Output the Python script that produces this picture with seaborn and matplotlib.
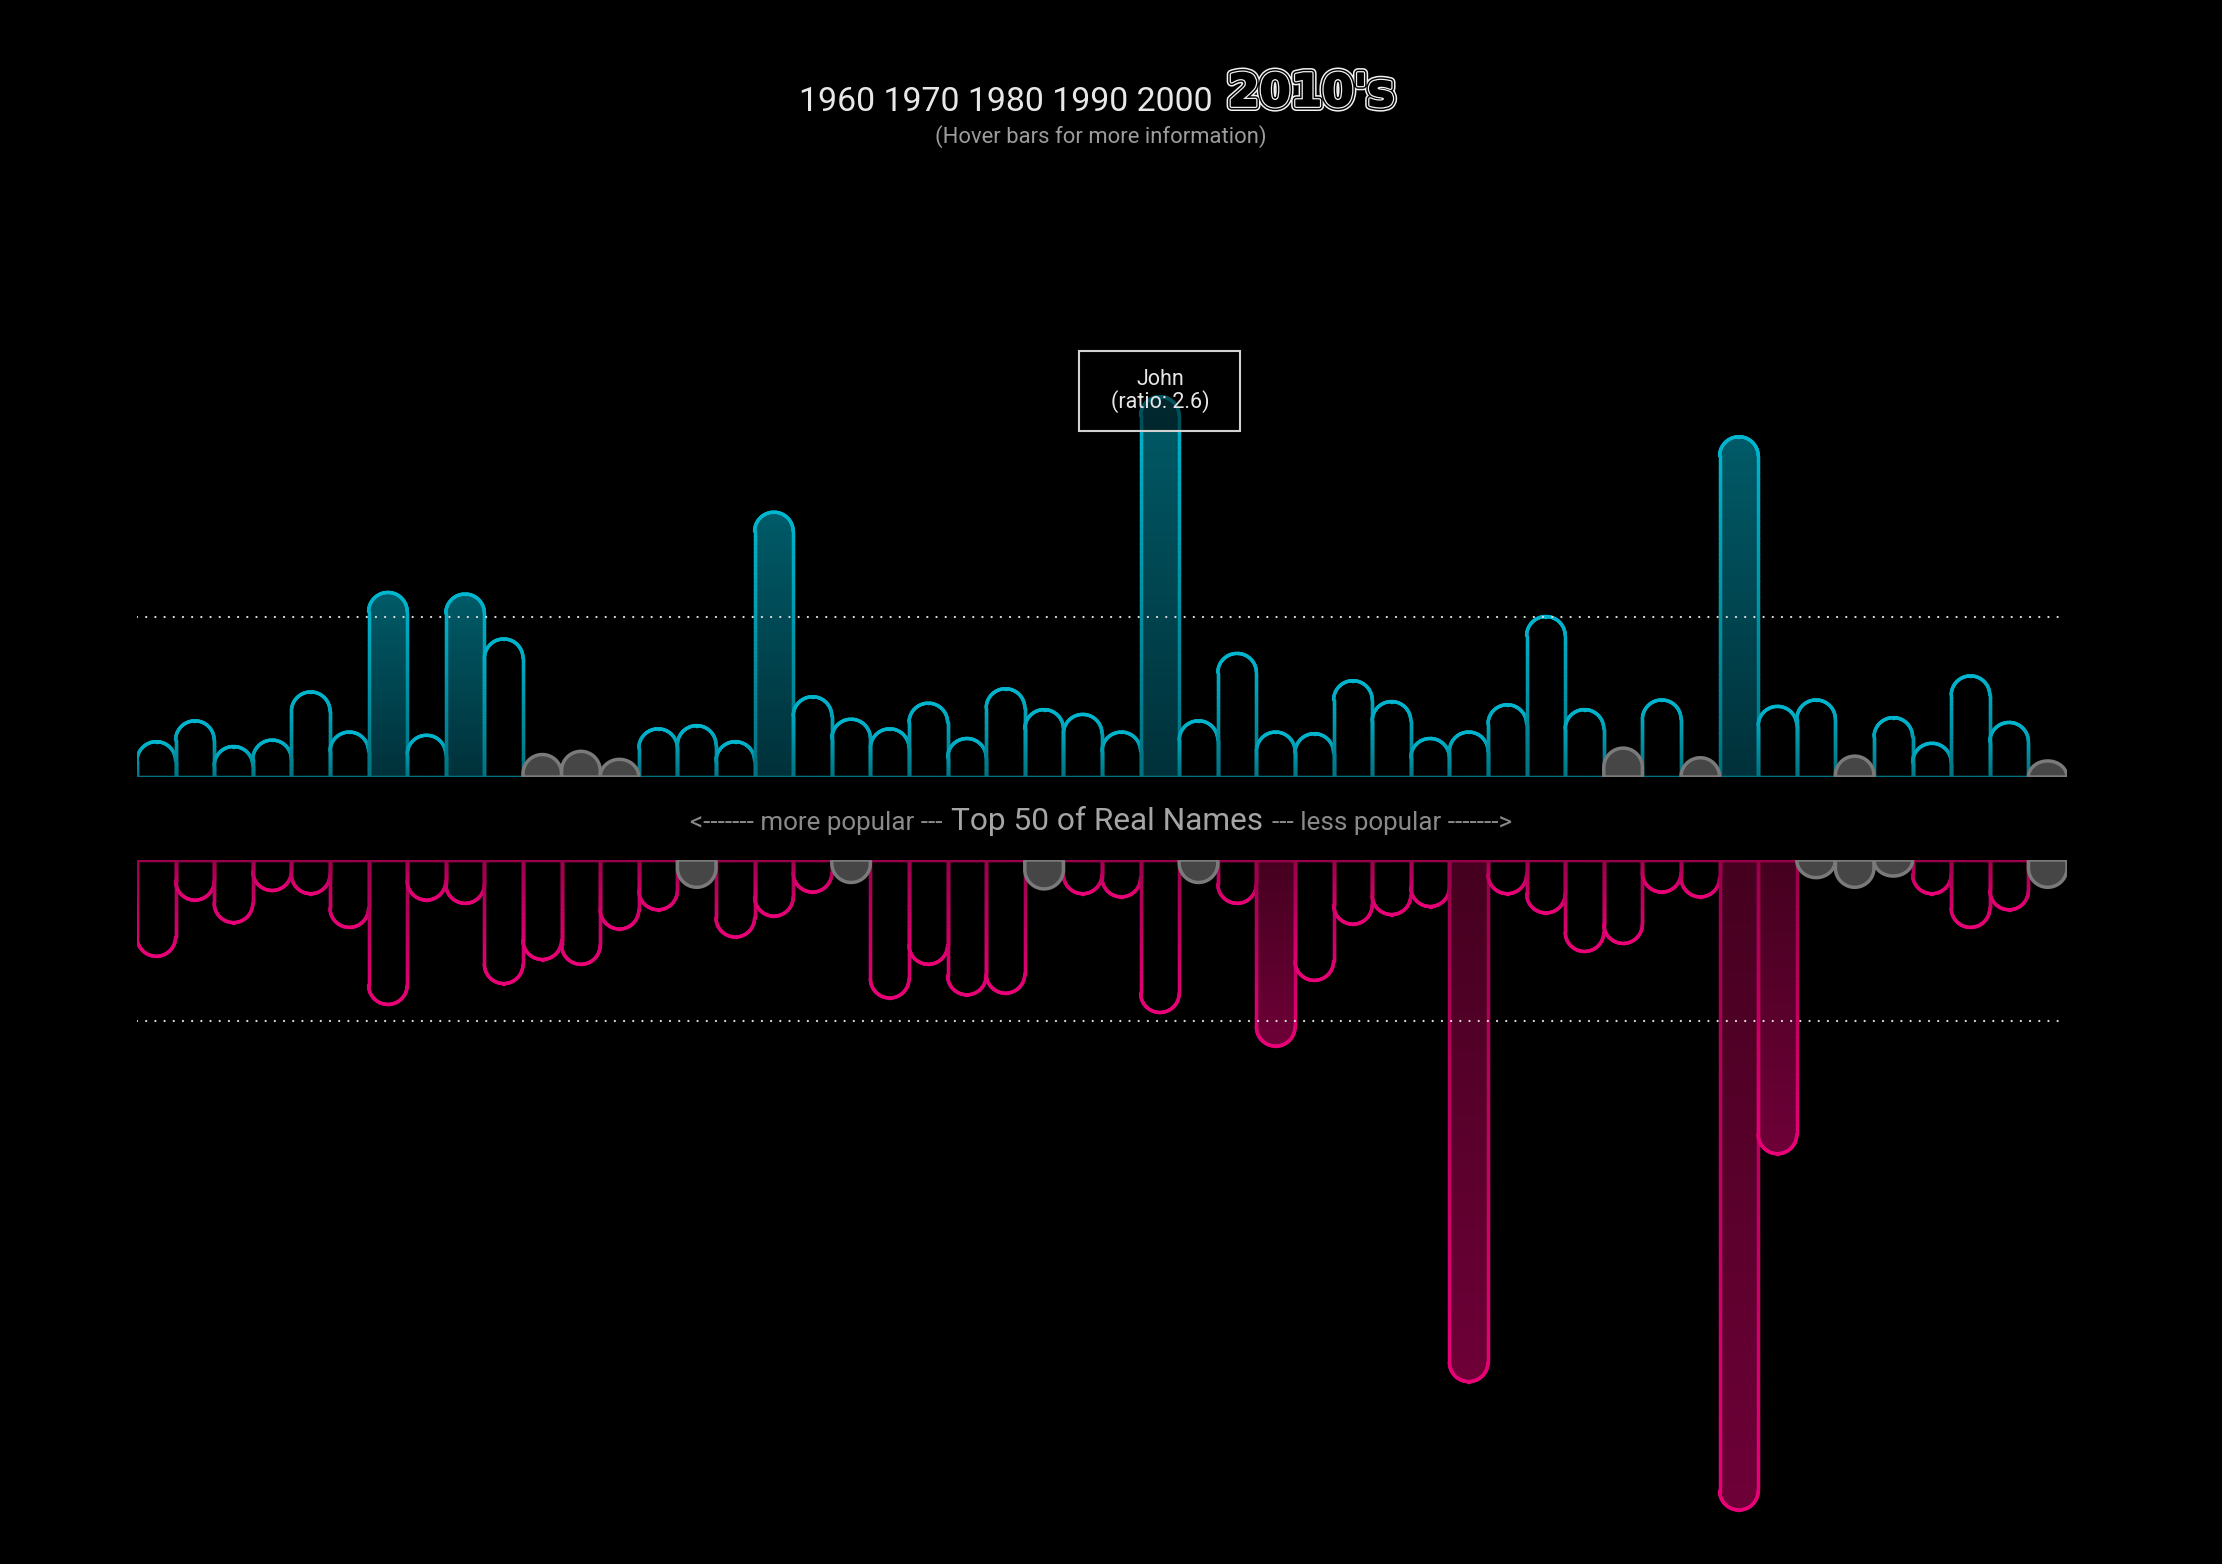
import numpy as np
import pandas as pd
import matplotlib
matplotlib.use("Agg")
import matplotlib.pyplot as plt
import seaborn as sns
from matplotlib.path import Path
from matplotlib.patches import PathPatch, Rectangle
from matplotlib.collections import LineCollection
from matplotlib.colors import LinearSegmentedColormap
from matplotlib.transforms import IdentityTransform
import matplotlib.patheffects as pe

# ---------------- data ----------------
ranks = list(range(1, 51))
top_ratio = [0.22, 0.35, 0.19, 0.23, 0.53, 0.28, 1.15, 0.26, 1.14, 0.86,
             0.14, 0.16, 0.11, 0.30, 0.32, 0.22, 1.65, 0.50, 0.36, 0.30,
             0.46, 0.24, 0.55, 0.42, 0.39, 0.28, 2.37, 0.35, 0.77, 0.28,
             0.27, 0.60, 0.47, 0.24, 0.28, 0.45, 1.00, 0.42, 0.18, 0.48,
             0.12, 2.12, 0.44, 0.48, 0.13, 0.37, 0.21, 0.63, 0.34, 0.10]
bottom_ratio = [0.60, 0.25, 0.39, 0.19, 0.21, 0.42, 0.90, 0.25, 0.27, 0.77,
                0.62, 0.65, 0.43, 0.31, 0.17, 0.48, 0.35, 0.20, 0.14, 0.86,
                0.65, 0.84, 0.83, 0.18, 0.21, 0.23, 0.95, 0.14, 0.27, 1.16,
                0.75, 0.40, 0.34, 0.29, 3.25, 0.21, 0.33, 0.57, 0.52, 0.20,
                0.23, 4.05, 1.83, 0.11, 0.17, 0.10, 0.21, 0.42, 0.31, 0.17]
top_muted = [11, 12, 13, 39, 41, 45, 50]
bottom_muted = [15, 19, 24, 28, 44, 45, 46, 50]
reference_level = 1.0
tooltip_rank = 27
tooltip_name = "John"
tooltip_ratio = 2.6
decades = ["1960", "1970", "1980", "1990", "2000"]
current_decade = "2010's"
subtitle = "(Hover bars for more information)"
axis_left = "<------- more popular ---"
axis_title = "Top 50 of Real Names"
axis_right = "--- less popular ------->"

# ---------------- layout / style ----------------
W, H, DPI = 2222, 1564, 100
sns.set_theme(style="white", rc={"axes.facecolor": "black", "figure.facecolor": "black"})
plt.rcParams["font.family"] = ["Roboto", "DejaVu Sans"]

fig = plt.figure(figsize=(W / DPI, H / DPI), dpi=DPI, facecolor="black")
LEFT, RIGHT = 137.0, 2067.0
TOP_BASE, BOT_BASE = 777.0, 860.0
UNIT_PX = 160.5
TOP_SPAN = 560.0
BOT_SPAN = H - BOT_BASE
N = len(ranks)
SLOT_PX = (RIGHT - LEFT) / N
R_Y = (SLOT_PX / 2) / UNIT_PX
LW = 2.5

ax_top = fig.add_axes([LEFT / W, (H - TOP_BASE) / H, (RIGHT - LEFT) / W, TOP_SPAN / H])
ax_bot = fig.add_axes([LEFT / W, 0, (RIGHT - LEFT) / W, BOT_SPAN / H])

CY_EDGE = LinearSegmentedColormap.from_list("ce", ["#00717f", "#00b6cf"])
CY_FILL = LinearSegmentedColormap.from_list("cf", ["#00313a", "#005b68"])
PK_EDGE = LinearSegmentedColormap.from_list("pe", ["#99004b", "#ea0078"])
PK_FILL = LinearSegmentedColormap.from_list("pf", ["#45001f", "#6e0038"])
GRAY_FILL, GRAY_EDGE = "#464646", "#7a7a7a"

df_top = pd.DataFrame({"rank": ranks, "ratio": top_ratio})
df_bot = pd.DataFrame({"rank": ranks, "ratio": [-v for v in bottom_ratio]})
sns.barplot(data=df_top, x="rank", y="ratio", ax=ax_top, width=1.0,
            color="#00b6cf", saturation=1, errorbar=None)
sns.barplot(data=df_bot, x="rank", y="ratio", ax=ax_bot, width=1.0,
            color="#ea0078", saturation=1, errorbar=None)


def outline_points(x0, w, a, ry):
    rx = w / 2.0
    xc = x0 + rx
    ry = min(ry, a)
    ys = np.linspace(0, a - ry, 60)
    th = np.linspace(np.pi, 0, 60)
    left = np.column_stack([np.full_like(ys, x0), ys])
    arc = np.column_stack([xc + rx * np.cos(th), (a - ry) + ry * np.sin(th)])
    right = np.column_stack([np.full_like(ys, x0 + w), ys[::-1]])
    bx = np.linspace(x0 + w, x0, 20)
    base = np.column_stack([bx, np.zeros_like(bx)])
    return np.vstack([left, arc, right, base])


def draw_bars(ax, sign, muted, edge_cmap, fill_cmap):
    rects = sorted(ax.patches, key=lambda p: p.get_x())
    for i, p in enumerate(rects):
        x0, w, h = p.get_x(), p.get_width(), p.get_height()
        p.remove()
        a = abs(h)
        pts = outline_points(x0, w, a, R_Y)
        pts[:, 1] *= sign
        path = Path(np.vstack([pts, pts[:1]]), closed=True)
        rank = ranks[i]
        if rank in muted:
            ax.add_patch(PathPatch(path, facecolor=GRAY_FILL, edgecolor=GRAY_EDGE,
                                   lw=LW, zorder=3, joinstyle="round"))
            continue
        if a > reference_level:
            clip = PathPatch(path, facecolor="none", edgecolor="none")
            ax.add_patch(clip)
            grad = np.linspace(0, 1, 256).reshape(-1, 1)
            if sign < 0:
                grad = grad[::-1]
                ext = [x0, x0 + w, -a, 0]
            else:
                ext = [x0, x0 + w, 0, a]
            im = ax.imshow(grad, extent=ext, origin="lower", aspect="auto",
                           cmap=fill_cmap, vmin=0, vmax=1, zorder=1)
            im.set_clip_path(clip)
        segs = np.stack([pts[:-1], pts[1:]], axis=1)
        t = np.abs((segs[:, 0, 1] + segs[:, 1, 1]) / 2.0) / a
        lc = LineCollection(segs, colors=edge_cmap(t), linewidths=LW,
                            capstyle="round", joinstyle="round", zorder=2)
        ax.add_collection(lc)


draw_bars(ax_top, 1, top_muted, CY_EDGE, CY_FILL)
draw_bars(ax_bot, -1, bottom_muted, PK_EDGE, PK_FILL)

for ax, lim, y in [(ax_top, (0, TOP_SPAN / UNIT_PX), reference_level),
                   (ax_bot, (-BOT_SPAN / UNIT_PX, 0), -reference_level)]:
    ax.set_xlim(-0.5, N - 0.5)
    ax.set_ylim(*lim)
    ax.axis("off")
    ax.axhline(y, xmin=0, xmax=0.9974, color="#dcdcdc", lw=1.65,
               linestyle=(0, (0.01, 4.0)), dash_capstyle="round", zorder=4)


def fxy(x, y):
    return x / W, 1 - y / H


# tooltip
ti = ranks.index(tooltip_rank)
cx, cy = ax_top.transData.transform((ti, top_ratio[ti]))
cy += 6
fig.add_artist(Rectangle((cx - 80.5, cy - 40), 161, 80, transform=IdentityTransform(),
                         facecolor=(0, 0, 0, 0.55), edgecolor="#d2d2d2", lw=1.5, zorder=10))
fig.text(cx, cy, f"{tooltip_name}\n(ratio: {tooltip_ratio})", transform=IdentityTransform(),
         ha="center", va="center", multialignment="center", fontsize=15.5,
         linespacing=1.0, color="#e6e6e6", zorder=11)

# titles
fig.text(*fxy(1213, 111), " ".join(decades), ha="right", va="baseline",
         fontsize=24.4, color="#e8e8e8")
fig.text(*fxy(1228, 106), current_decade, ha="left", va="baseline", fontsize=32.5,
         fontweight="bold", family=["DejaVu Sans"], color="black",
         path_effects=[pe.Stroke(linewidth=7.2, foreground="#f2f2f2"),
                       pe.Stroke(linewidth=5.0, foreground="black"),
                       pe.Stroke(linewidth=2.9, foreground="#f2f2f2"),
                       pe.Stroke(linewidth=1.1, foreground="black")])
fig.text(*fxy(1101, 142.7), subtitle, ha="center", va="baseline", fontsize=15.8,
         color="#9c9c9c")

# central axis label
renderer = fig.canvas.get_renderer()
lt = fig.text(0, 0, axis_left, fontsize=18.7, color="#8a8a8a", ha="left", va="baseline")
mt = fig.text(0, 0, axis_title, fontsize=22.8, color="#a5a5a5", ha="left", va="baseline")
rt = fig.text(0, 0, axis_right, fontsize=18.7, color="#8a8a8a", ha="left", va="baseline")
wl = lt.get_window_extent(renderer).width
wm = mt.get_window_extent(renderer).width
wr = rt.get_window_extent(renderer).width
gap = 9
x0 = 1101 - (wl + wm + wr + 2 * gap) / 2
lt.set_position(fxy(x0, 830))
mt.set_position(fxy(x0 + wl + gap, 830))
rt.set_position(fxy(x0 + wl + gap + wm + gap, 830))

fig.savefig("out.png", dpi=DPI, facecolor="black")
